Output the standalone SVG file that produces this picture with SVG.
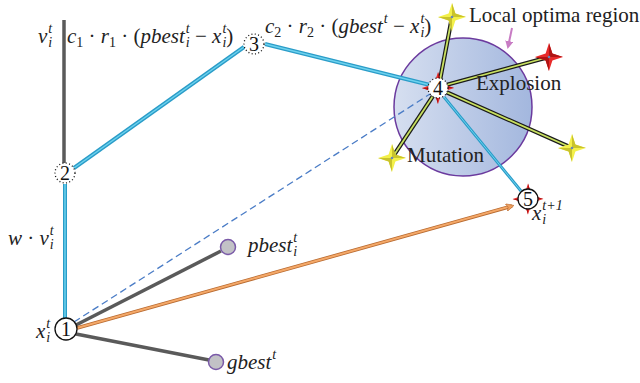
<svg xmlns="http://www.w3.org/2000/svg" width="640" height="383" viewBox="0 0 640 383">
<defs>
<linearGradient id="regionGrad" x1="0" y1="0" x2="1" y2="0">
<stop offset="0" stop-color="#d6dff0"/>
<stop offset="1" stop-color="#a3b7de"/>
</linearGradient>
<g id="starY">
<path d="M0,-14 L3.4,-3.4 L14,0 L3.4,3.4 L0,14 L-3.4,3.4 L-14,0 L-3.4,-3.4 Z" fill="#f3f04a"/>
<path d="M0,-14 L3.4,-3.4 L14,0 L0,0 Z M0,14 L-3.4,3.4 L-14,0 L0,0 Z" fill="#c9c32c"/>
<circle r="1.3" fill="#6a86b8"/>
</g>
<g id="starR">
<path d="M0,-14 L3.4,-3.4 L14,0 L3.4,3.4 L0,14 L-3.4,3.4 L-14,0 L-3.4,-3.4 Z" fill="#e82a2a"/>
<path d="M0,-14 L3.4,-3.4 L14,0 L0,0 Z M0,14 L-3.4,3.4 L-14,0 L0,0 Z" fill="#b01414"/>
<circle r="1.3" fill="#6a86b8"/>
</g>
<marker id="orangeHead" markerWidth="8" markerHeight="8" refX="6" refY="4" orient="auto" markerUnits="userSpaceOnUse" viewBox="0 0 8 8">
<path d="M0,0 L8,4 L0,8 L2,4 Z" fill="#f0a060" stroke="#b86a30" stroke-width="0.6"/>
</marker>
<marker id="pinkHead" markerWidth="8" markerHeight="8" refX="6" refY="4" orient="auto" markerUnits="userSpaceOnUse" viewBox="0 0 8 8">
<path d="M0,0 L8,4 L0,8 Z" fill="#c87cc4"/>
</marker>
</defs>
<style>
.serif{font-family:"Liberation Serif","Times New Roman",serif;fill:#222;}
.lbl{font-size:21px;}
.math{font-size:21px;font-style:italic;}
.up{font-style:normal;}
.sup{font-size:14px;}
.gray{stroke:#5a5a5a;stroke-width:3.5;fill:none;stroke-linecap:butt;}
.cyanO{stroke:#2a9cc8;stroke-width:4;fill:none;}
.cyanI{stroke:#6dd2ee;stroke-width:1.5;fill:none;}
.dash{stroke:#4a7cc6;stroke-width:1.3;fill:none;stroke-dasharray:7,4;}
.gyO{stroke:#1a1a1a;stroke-width:4.2;fill:none;}
.gyI{stroke:#c8e060;stroke-width:1.8;fill:none;}
.dotted{fill:#fff;stroke:#111;stroke-width:1.3;stroke-dasharray:1,2.4;}
.solid{fill:#fff;stroke:#111;stroke-width:1.3;}
.best{fill:#c2c2c6;stroke:#7a5aa8;stroke-width:1.5;}
.num{font-family:"Liberation Serif","Times New Roman",serif;font-size:20px;fill:#111;text-anchor:middle;}
</style>

<g id="region">
<circle cx="463" cy="107" r="69" fill="url(#regionGrad)" stroke="#6b3a9e" stroke-width="1.5"/>
</g>

<g id="connectors">
<line class="gray" x1="64" y1="20" x2="64" y2="163"/>
<line class="cyanO" x1="65" y1="184" x2="65" y2="318"/>
<line class="cyanI" x1="65" y1="184" x2="65" y2="318"/>
<line class="cyanO" x1="74" y1="168" x2="244" y2="47"/>
<line class="cyanI" x1="74" y1="168" x2="244" y2="47"/>
<line class="cyanO" x1="265" y1="44" x2="430" y2="85"/>
<line class="cyanI" x1="265" y1="44" x2="430" y2="85"/>
<line class="cyanO" x1="444" y1="97" x2="521" y2="191" style="stroke-width:3"/>
<line class="cyanI" x1="444" y1="97" x2="521" y2="191" style="stroke-width:1"/>
<line class="dash" x1="74" y1="322" x2="430" y2="94"/>
<line class="gray" x1="76" y1="325" x2="221" y2="251"/>
<line class="gray" x1="76" y1="334" x2="209" y2="360"/>
<line x1="77" y1="328" x2="512" y2="206" stroke="#b86a30" stroke-width="3.6"/>
<line x1="77" y1="328" x2="512" y2="206" stroke="#f4a868" stroke-width="2" marker-end="url(#orangeHead)"/>
<line class="gyO" x1="440" y1="80" x2="452" y2="17"/>
<line class="gyI" x1="440" y1="80" x2="452" y2="17"/>
<line class="gyO" x1="446" y1="85" x2="549" y2="57"/>
<line class="gyI" x1="446" y1="85" x2="549" y2="57"/>
<line class="gyO" x1="446" y1="92" x2="572" y2="148"/>
<line class="gyI" x1="446" y1="92" x2="572" y2="148"/>
<line class="gyO" x1="433" y1="96" x2="392" y2="158"/>
<line class="gyI" x1="433" y1="96" x2="392" y2="158"/>
<line x1="512" y1="28" x2="508" y2="47" stroke="#c87cc4" stroke-width="2" marker-end="url(#pinkHead)"/>
</g>

<g id="stars">
<use href="#starY" x="452" y="17"/>
<use href="#starR" x="549" y="57"/>
<use href="#starY" x="572" y="148"/>
<use href="#starY" x="392" y="158"/>
</g>

<g id="node1">
<circle class="solid" cx="66" cy="329" r="11"/>
<text class="num" x="66" y="336">1</text>
</g>
<g id="node2">
<circle class="dotted" cx="65" cy="173" r="10"/>
<text class="num" x="65" y="180">2</text>
</g>
<g id="node3">
<circle class="dotted" cx="254" cy="44" r="10"/>
<text class="num" x="254" y="51">3</text>
</g>
<g id="node4">
<use href="#starR" transform="translate(438,88) scale(1.15)"/>
<circle class="dotted" cx="438" cy="88" r="10"/>
<text class="num" x="438" y="95">4</text>
</g>
<g id="node5">
<use href="#starR" transform="translate(528,199) scale(1.1)"/>
<circle class="solid" cx="528" cy="199" r="10"/>
<text class="num" x="528" y="206">5</text>
</g>
<g id="pbest">
<circle class="best" cx="228" cy="247" r="7.5"/>
</g>
<g id="gbest">
<circle class="best" cx="216" cy="362" r="7.5"/>
</g>

<g id="labels">
<text class="serif lbl" x="469" y="22">Local optima region</text>
<text class="serif lbl" x="476" y="90">Explosion</text>
<text class="serif lbl" x="407" y="162">Mutation</text>

<text class="serif math" x="38" y="43">v<tspan class="sup" dx="1" dy="-10">t</tspan><tspan class="sup" dx="-3.9" dy="14">i</tspan></text>

<text class="serif math" x="67" y="43">c<tspan class="sup up" dy="4">1</tspan><tspan class="up" dy="-4"> · </tspan>r<tspan class="sup up" dy="4">1</tspan><tspan class="up" dy="-4"> · (</tspan>pbest<tspan class="sup" dx="1" dy="-10">t</tspan><tspan class="sup" dx="-3.9" dy="14">i</tspan><tspan class="up" dy="-4"> − </tspan>x<tspan class="sup" dx="1" dy="-10">t</tspan><tspan class="sup" dx="-3.9" dy="14">i</tspan><tspan class="up" dy="-4">)</tspan></text>

<text class="serif math" x="265" y="33">c<tspan class="sup up" dy="4">2</tspan><tspan class="up" dy="-4"> · </tspan>r<tspan class="sup up" dy="4">2</tspan><tspan class="up" dy="-4"> · (</tspan>gbest<tspan class="sup" dx="1" dy="-10">t</tspan><tspan class="up" dy="10"> − </tspan>x<tspan class="sup" dx="1" dy="-10">t</tspan><tspan class="sup" dx="-3.9" dy="14">i</tspan><tspan class="up" dy="-4">)</tspan></text>

<text class="serif math" x="8" y="245">w<tspan class="up"> · </tspan>v<tspan class="sup" dx="1" dy="-10">t</tspan><tspan class="sup" dx="-3.9" dy="14">i</tspan></text>

<text class="serif math" x="36" y="338">x<tspan class="sup" dx="1" dy="-10">t</tspan><tspan class="sup" dx="-3.9" dy="14">i</tspan></text>

<text class="serif math" x="248" y="252">pbest<tspan class="sup" dx="1" dy="-10">t</tspan><tspan class="sup" dx="-3.9" dy="14">i</tspan></text>

<text class="serif math" x="227" y="369">gbest<tspan class="sup" dx="1" dy="-10">t</tspan></text>

<text class="serif math" x="532" y="220">x<tspan class="sup" dx="1" dy="-10">t+1</tspan><tspan class="sup" dx="-20.3" dy="14">i</tspan></text>
</g>
</svg>
